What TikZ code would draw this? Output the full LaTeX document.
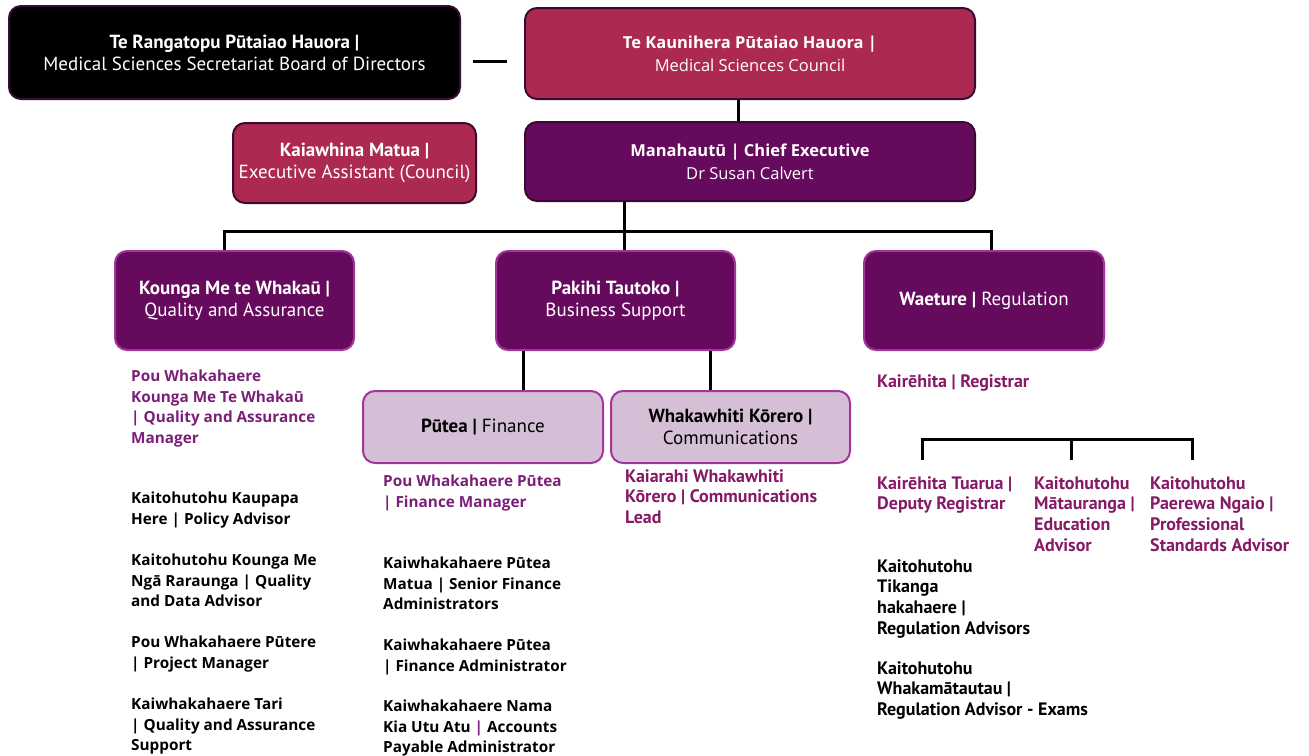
\documentclass[tikz,border=0pt]{standalone}
\usepackage{fontspec}
\setmainfont{Open Sans}
\newfontfamily\cond{PT Sans}
\definecolor{crim}{HTML}{AC2A50}
\definecolor{plum}{HTML}{660A5E}
\definecolor{lilac}{HTML}{D5BFD6}
\definecolor{darkedge}{HTML}{3A0A35}
\definecolor{magedge}{HTML}{A2359C}
\definecolor{ptxt}{HTML}{7A1F78}
\definecolor{rtxt}{HTML}{861A66}
\tikzset{
  box/.style={rounded corners=12pt, line width=2pt, align=center, inner sep=0pt},
  topbox/.style={box, draw=darkedge},
  midbox/.style={box, draw=magedge, fill=plum, text=white},
  subbox/.style={box, draw=magedge, fill=lilac, text=black},
  wire/.style={line width=3pt, black},
  role/.style={anchor=north west, align=left, inner sep=0pt, font=\fontsize{15.3}{20.5}\selectfont\bfseries},
  crole/.style={anchor=north west, align=left, inner sep=0pt, font=\cond\fontsize{18}{20.7}\selectfont\bfseries},
  cfont/.style={font=\cond\fontsize{19}{22}\selectfont},
  ofont/.style={font=\fontsize{16.5}{23}\selectfont},
}
\begin{document}
\begin{tikzpicture}[x=1pt,y=-1pt]
\useasboundingbox (0,0) rectangle (1309,755);
% top level
\node[topbox, fill=black, text=white, minimum width=451pt, minimum height=93pt, cfont] (board) at (234.5,52.5)
  {\textbf{Te Rangatopu Pūtaiao Hauora |}\\Medical Sciences Secretariat Board of Directors};
\node[topbox, fill=crim, text=white, minimum width=450pt, minimum height=91pt, ofont] (council) at (750,53.5)
  {\textbf{Te Kaunihera Pūtaiao Hauora |}\\Medical Sciences Council};
\coordinate (dashL) at (473,61);
\coordinate (dashR) at (507,61);
\draw[wire] (dashL) -- (dashR);
\node[topbox, fill=crim, text=white, minimum width=243pt, minimum height=80pt, cfont] (ea) at (354.5,163)
  {\textbf{Kaiawhina Matua |}\\Executive Assistant (Council)};
\node[topbox, fill=plum, text=white, minimum width=450pt, minimum height=79pt, ofont] (ce) at (750,161.5)
  {\textbf{Manahautū | Chief Executive}\\Dr Susan Calvert};
\draw[wire] (council.south -| 738,0) -- (ce.north -| 738,0);
% level 3
\node[midbox, minimum width=239pt, minimum height=99pt, cfont] (qa) at (234.5,300.5)
  {\textbf{Kounga Me te Whakaū |}\\Quality and Assurance};
\node[midbox, minimum width=239pt, minimum height=99pt, cfont] (bs) at (615.5,300.5)
  {\textbf{Pakihi Tautoko |}\\Business Support};
\node[midbox, minimum width=240pt, minimum height=99pt, cfont] (reg) at (984,300.5)
  {\textbf{Waeture |} Regulation};
\coordinate (bar) at (624,231);
\draw[wire] (ce.south -| bar) -- (bs.north -| bar);
\draw[wire] (qa.north -| 224,0) -- (224,231) -- (991,231) -- (reg.north -| 991,0);
% level 4
\node[subbox, minimum width=240pt, minimum height=72pt, cfont] (fin) at (483,427)
  {\textbf{Pūtea |} Finance};
\node[subbox, minimum width=239pt, minimum height=72pt, cfont] (com) at (730.5,427)
  {\textbf{Whakawhiti Kōrero |}\\Communications};
\draw[wire] (bs.south -| 523,0) -- (fin.north -| 523,0);
\draw[wire] (bs.south -| 710,0) -- (com.north -| 710,0);
% quality column
\node[role, text=ptxt] (qam) at (131,370) {Pou Whakahaere\\Kounga Me Te Whakaū\\| Quality and Assurance\\Manager};
\node[role] (pol) at (131,492) {Kaitohutohu Kaupapa\\Here | Policy Advisor};
\node[role] (qda) at (131,554) {Kaitohutohu Kounga Me\\Ngā Raraunga | Quality\\and Data Advisor};
\node[role] (pm) at (131,636) {Pou Whakahaere Pūtere\\| Project Manager};
\node[role] (qas) at (131,698) {Kaiwhakahaere Tari\\| Quality and Assurance\\Support};
% finance column
\node[role, text=ptxt] (fm) at (383,475) {Pou Whakahaere Pūtea\\| Finance Manager};
\node[role] (sfa) at (383,557) {Kaiwhakahaere Pūtea\\Matua | Senior Finance\\Administrators};
\node[role] (fa) at (383,639) {Kaiwhakahaere Pūtea\\| Finance Administrator};
\node[role] (apa) at (383,700) {Kaiwhakahaere Nama\\Kia Utu Atu \textcolor{ptxt}{|} Accounts\\Payable Administrator};
% comms column
\node[crole, text=rtxt] (cl) at (625,469) {Kaiarahi Whakawhiti\\Kōrero | Communications\\Lead};
% regulation column
\node[crole, text=rtxt] (regr) at (877,374) {Kairēhita | Registrar};
\coordinate (rb1) at (922,460);
\coordinate (rb2) at (1071,460);
\coordinate (rb3) at (1192,460);
\draw[wire] (rb1) -- (922,439) -- (1192,439) -- (rb3);
\draw[wire] (1071,439) -- (rb2);
\node[crole, text=rtxt] (dr) at (877,476) {Kairēhita Tuarua |\\Deputy Registrar};
\node[crole, text=rtxt] (ea2) at (1034,476) {Kaitohutohu\\Mātauranga |\\Education\\Advisor};
\node[crole, text=rtxt] (psa) at (1150,476) {Kaitohutohu\\Paerewa Ngaio |\\Professional\\Standards Advisor};
\node[crole] (ra) at (877,559) {Kaitohutohu\\Tikanga\\hakahaere |\\Regulation Advisors};
\node[crole] (rae) at (877,661) {Kaitohutohu\\Whakamātautau |\\Regulation Advisor - Exams};
\end{tikzpicture}
\end{document}
